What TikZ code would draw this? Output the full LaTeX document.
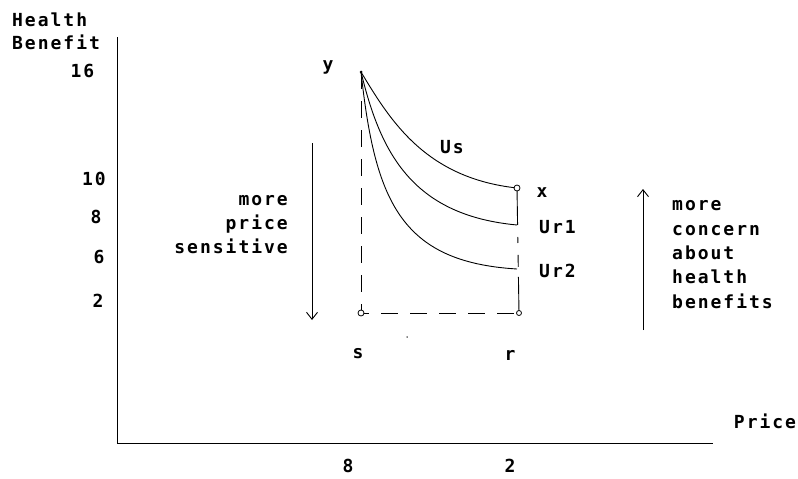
\documentclass[tikz,border=0pt]{standalone}
\usepackage{fontspec}
\newfontfamily\pixfont[LetterSpace=11]{DejaVu Sans Mono Bold}
\usetikzlibrary{arrows.meta}
\tikzset{
  lbl/.style={font=\pixfont\fontsize{18}{24}\selectfont, inner sep=0pt},
  axisline/.style={line width=1pt},
  curve/.style={line width=0.9pt},
  dashline/.style={line width=0.9pt, dash pattern=on 17pt off 12pt},
  bigarrow/.style={line width=0.9pt, -{Straight Barb[length=7pt,width=11pt]}},
  opendot/.style={circle, draw, fill=white, line width=0.8pt, minimum size=6pt, inner sep=0pt},
  fulldot/.style={circle, fill=black, minimum size=3pt, inner sep=0pt}
}
\begin{document}
\begin{tikzpicture}[x=1pt,y=-1pt]
\useasboundingbox (0,0) rectangle (798,479);
% axes
\coordinate (ytop) at (117,37);
\coordinate (orig) at (117,443);
\coordinate (xend) at (713,443);
\draw[axisline] (ytop) -- (orig) -- (xend);
% key points
\coordinate (P) at (361,72);
\coordinate (X) at (517,188);
\coordinate (U1) at (517,225);
\coordinate (U2) at (517,269);
\coordinate (S) at (361,313);
\coordinate (R) at (519,313);
% dashed lines
\draw[dashline] (P) -- (S) -- (R);
\draw[dashline, dash pattern=on 37pt off 12pt on 6pt off 12pt on 12pt off 10pt on 40pt] (X) -- (R);
% curves
\draw[curve] (P) .. controls (390,120) and (425,178) .. (X);
\draw[curve] (P) .. controls (380,150) and (410,215) .. (U1);
\draw[curve] (P) .. controls (375,200) and (400,262) .. (U2);
% markers
\node[fulldot] (Pd) at (P) {};
\node[opendot] (Xd) at (X) {};
\node[opendot] (Sd) at (S) {};
\node[opendot, minimum size=5pt] (Rd) at (R) {};
\node[fulldot, minimum size=1.5pt] (speck) at (407,337) {};
% arrows
\coordinate (dtop) at (312,143);
\coordinate (dbot) at (312,320);
\draw[bigarrow] (dtop) -- (dbot);
\coordinate (ubot) at (643,330);
\coordinate (utop) at (643,189);
\draw[bigarrow] (ubot) -- (utop);
% axis titles
\node[lbl, anchor=base west] (t1) at (12,26) {Health};
\node[lbl, anchor=base west] (t2) at (12,49) {Benefit};
\node[lbl, anchor=base] (price) at (765,428) {Price};
% y ticks
\node[lbl, anchor=base] (v16) at (82.5,77) {16};
\node[lbl, anchor=base east] (v10) at (106,185) {10};
\node[lbl, anchor=base] (v8) at (96,223) {8};
\node[lbl, anchor=base] (v6) at (99,263) {6};
\node[lbl, anchor=base] (v2) at (98,307) {2};
% x ticks
\node[lbl, anchor=base] (h8) at (348,472) {8};
\node[lbl, anchor=base] (h2) at (510,472) {2};
% point labels
\node[lbl, anchor=base] (ly) at (328,70) {y};
\node[lbl, anchor=base] (lus) at (452,153) {Us};
\node[lbl, anchor=base] (lx) at (542,197) {x};
\node[lbl, anchor=base west] (lur1) at (539,233) {Ur1};
\node[lbl, anchor=base west] (lur2) at (539,277) {Ur2};
\node[lbl, anchor=base] (ls) at (358,358) {s};
\node[lbl, anchor=base] (lr) at (510,360) {r};
% left text
\node[lbl, anchor=base east] (m1) at (288,205) {more};
\node[lbl, anchor=base east] (m2) at (288,229) {price};
\node[lbl, anchor=base east] (m3) at (288,253) {sensitive};
% right text
\node[lbl, anchor=base west] (c1) at (672,210) {more};
\node[lbl, anchor=base west] (c2) at (672,235) {concern};
\node[lbl, anchor=base west] (c3) at (672,259) {about};
\node[lbl, anchor=base west] (c4) at (672,283) {health};
\node[lbl, anchor=base west] (c5) at (672,308) {benefits};
\end{tikzpicture}
\end{document}
